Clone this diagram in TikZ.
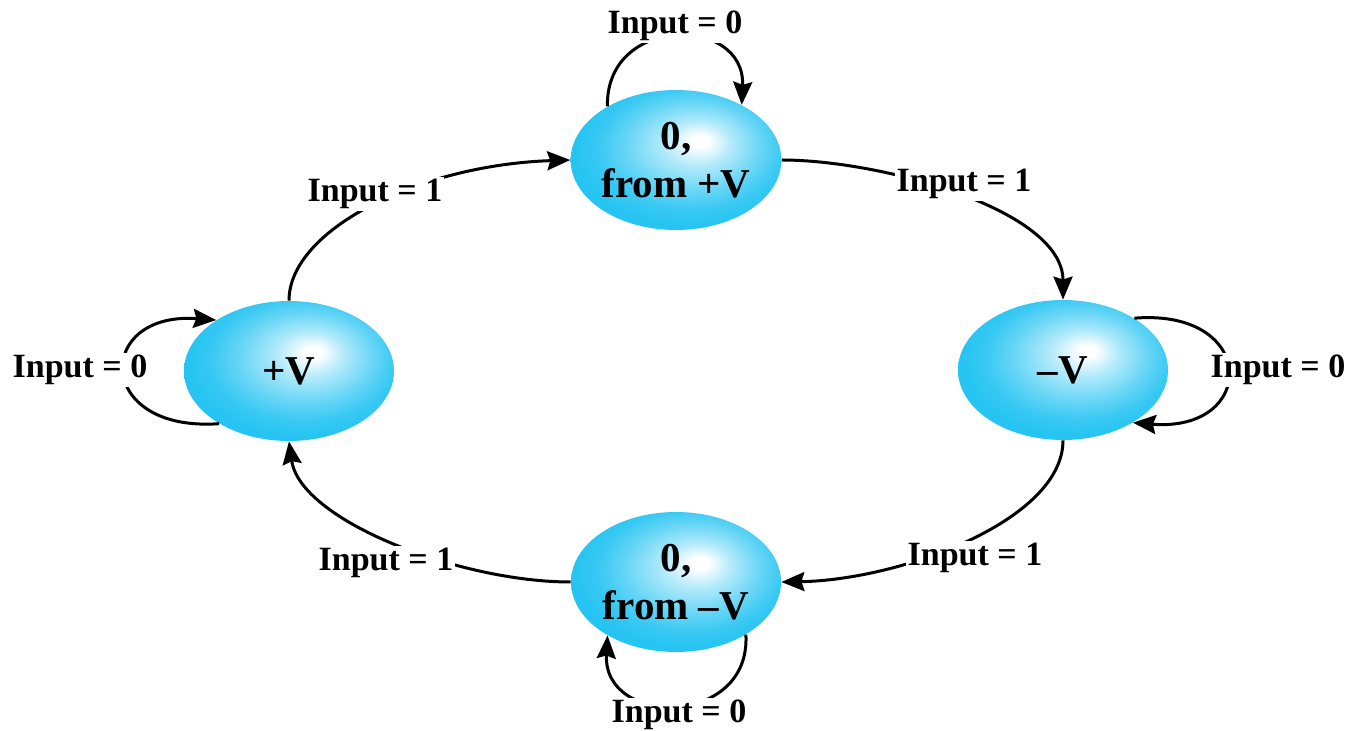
\documentclass[tikz,border=0pt]{standalone}
\usepackage{fontspec}
\setmainfont{Liberation Serif}
\usetikzlibrary{shapes.geometric,arrows.meta}
\definecolor{nodecyan}{RGB}{38,196,242}
\pgfdeclareradialshading{glow}{\pgfpoint{6bp}{7bp}}{color(0bp)=(white); color(2bp)=(white); color(8bp)=(nodecyan!35!white); color(16bp)=(nodecyan!70!white); color(22bp)=(nodecyan!92!white); color(27bp)=(nodecyan); color(50bp)=(nodecyan)}
\tikzset{
  state/.style={ellipse, minimum width=105pt, minimum height=70pt, inner sep=0pt,
    shade, shading=glow, align=center, font=\fontsize{20.5}{24}\selectfont\bfseries},
  lbl/.style={fill=white, inner sep=1pt, font=\fontsize{17}{19}\selectfont\bfseries},
  arr/.style={line width=1.5pt, -{Stealth[length=11.5pt,width=9.5pt,inset=1.5pt]}}
}
\begin{document}
\begin{tikzpicture}[x=0.5pt,y=-0.5pt]
\useasboundingbox (0,0) rectangle (1350,731);
% states
\node[state] (top) at (676,160) {0,\\from +V};
\node[state] (lft) at (289,371) {+V};
\node[state] (rgt) at (1063,370) {–V};
\node[state] (bot) at (676,582) {0,\\from –V};
% transitions
\draw[arr] (lft.90) .. controls +(0,-71) and +(-151,5) .. (top.180);
\draw[arr] (top.0) .. controls +(99,0) and +(0,-90) .. (rgt.90);
\draw[arr] (rgt.270) .. controls +(0,80) and +(119,-2) .. (bot.0);
\draw[arr] (bot.180) .. controls +(-111,0) and +(11,79) .. (lft.270);
% self loops
\draw[arr] (top.142) .. controls +(-2,-92) and +(4,-90) .. (top.40);
\draw[arr] (lft.217) .. controls +(-125,9) and +(-122,-9) .. (lft.145);
\draw[arr] (rgt.36) .. controls +(124,-10) and +(125,10) .. (rgt.323);
\draw[arr] (bot.323) .. controls +(5,93) and +(-5,92) .. (bot.218);
% labels
\node[lbl] (l1) at (375,194) {Input = 1};
\node[lbl] (l2) at (964,184) {Input = 1};
\node[lbl] (l3) at (975,558) {Input = 1};
\node[lbl] (l4) at (386,563) {Input = 1};
\node[lbl] (t0) at (675,26) {Input = 0};
\node[lbl] (lf0) at (80,370) {Input = 0};
\node[lbl] (r0) at (1278,370) {Input = 0};
\node[lbl] (b0) at (679,715) {Input = 0};
\end{tikzpicture}
\end{document}
